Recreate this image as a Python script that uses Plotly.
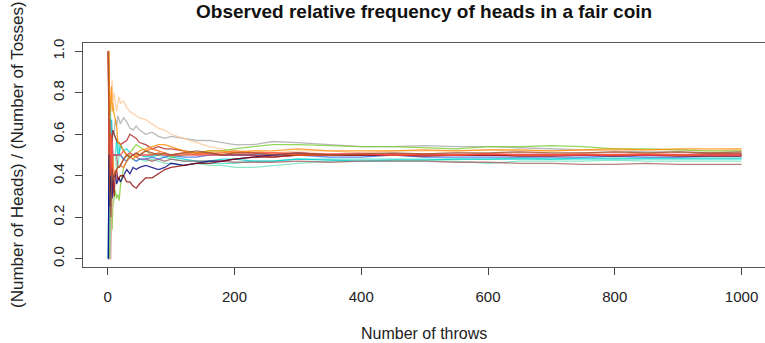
import plotly.graph_objects as go

throws = [1, 2, 3, 4, 5, 6, 7, 8, 10, 12,
          14, 16, 18, 20, 25, 30, 35, 40, 45, 50,
          60, 70, 80, 90, 100, 120, 140, 160, 180, 200,
          230, 260, 300, 350, 400, 450, 500, 550, 600, 650,
          700, 750, 800, 850, 900, 950, 1000]

x_ticks = [0, 200, 400, 600, 800, 1000]
y_ticks = [0.0, 0.2, 0.4, 0.6, 0.8, 1.0]
y_tick_text = ["0.0", "0.2", "0.4", "0.6", "0.8", "1.0"]

sienna = [1.0, 0.5, 0.33, 0.25, 0.2, 0.33, 0.43, 0.38, 0.4, 0.42,
          0.43, 0.44, 0.44, 0.45, 0.48, 0.5, 0.49, 0.5, 0.51, 0.5,
          0.52, 0.51, 0.5, 0.51, 0.5, 0.51, 0.52, 0.51, 0.5, 0.51,
          0.51, 0.5, 0.51, 0.5, 0.505, 0.51, 0.505, 0.51, 0.51, 0.515,
          0.51, 0.51, 0.515, 0.51, 0.515, 0.51, 0.515]
darkorange = [1.0, 1.0, 0.67, 0.75, 0.8, 0.83, 0.71, 0.75, 0.7, 0.67,
              0.64, 0.56, 0.56, 0.55, 0.52, 0.5, 0.49, 0.48, 0.5, 0.52,
              0.53, 0.54, 0.55, 0.55, 0.54, 0.52, 0.51, 0.52, 0.52, 0.51,
              0.52, 0.52, 0.53, 0.52, 0.52, 0.52, 0.525, 0.52, 0.525, 0.525,
              0.52, 0.525, 0.53, 0.525, 0.53, 0.53, 0.53]
orangered = [1.0, 0.5, 0.67, 0.5, 0.6, 0.5, 0.43, 0.5, 0.4, 0.42,
             0.43, 0.44, 0.44, 0.45, 0.44, 0.47, 0.49, 0.5, 0.49, 0.5,
             0.52, 0.53, 0.52, 0.51, 0.5, 0.51, 0.5, 0.51, 0.51, 0.52,
             0.51, 0.51, 0.5, 0.5, 0.505, 0.5, 0.505, 0.5, 0.505, 0.5,
             0.5, 0.505, 0.5, 0.505, 0.5, 0.505, 0.505]
peach = [1.0, 1.0, 0.67, 0.75, 0.8, 0.83, 0.86, 0.75, 0.8, 0.75,
         0.71, 0.75, 0.78, 0.75, 0.76, 0.73, 0.71, 0.7, 0.69, 0.68,
         0.67, 0.65, 0.63, 0.62, 0.6, 0.58, 0.56, 0.54, 0.53, 0.52,
         0.52, 0.51, 0.52, 0.52, 0.51, 0.52, 0.52, 0.52, 0.525, 0.52,
         0.52, 0.525, 0.52, 0.525, 0.525, 0.52, 0.525]
gray = [1.0, 0.5, 0.33, 0.5, 0.6, 0.67, 0.57, 0.62, 0.6, 0.67,
        0.64, 0.69, 0.67, 0.65, 0.68, 0.66, 0.63, 0.62, 0.64, 0.62,
        0.6, 0.61, 0.59, 0.58, 0.59, 0.58, 0.57, 0.57, 0.56, 0.55,
        0.55, 0.565, 0.56, 0.55, 0.54, 0.54, 0.545, 0.54, 0.54, 0.535,
        0.53, 0.525, 0.52, 0.515, 0.515, 0.51, 0.51]
navy = [0.0, 0.5, 0.33, 0.25, 0.4, 0.33, 0.29, 0.38, 0.4, 0.42,
        0.36, 0.38, 0.39, 0.37, 0.4, 0.43, 0.41, 0.44, 0.43, 0.44,
        0.45, 0.44, 0.43, 0.44, 0.46, 0.45, 0.46, 0.47, 0.47, 0.48,
        0.49, 0.5, 0.51, 0.5, 0.5, 0.5, 0.5, 0.5, 0.5, 0.5,
        0.5, 0.5, 0.5, 0.5, 0.5, 0.505, 0.505]
darkred = [1.0, 0.5, 0.33, 0.5, 0.4, 0.5, 0.43, 0.38, 0.3, 0.42,
           0.43, 0.38, 0.39, 0.4, 0.4, 0.37, 0.37, 0.35, 0.34, 0.36,
           0.39, 0.39, 0.41, 0.43, 0.44, 0.45, 0.46, 0.46, 0.47, 0.48,
           0.49, 0.49, 0.5, 0.5, 0.5, 0.5, 0.495, 0.5, 0.5, 0.495,
           0.495, 0.5, 0.495, 0.5, 0.495, 0.495, 0.495]
firebrick = [1.0, 0.5, 0.67, 0.5, 0.6, 0.5, 0.57, 0.62, 0.6, 0.58,
             0.57, 0.56, 0.56, 0.55, 0.56, 0.57, 0.6, 0.59, 0.58, 0.56,
             0.55, 0.53, 0.54, 0.53, 0.53, 0.52, 0.51, 0.51, 0.5, 0.5,
             0.5, 0.49, 0.5, 0.5, 0.5, 0.505, 0.5, 0.5, 0.5, 0.5,
             0.5, 0.5, 0.5, 0.5, 0.5, 0.5, 0.5]
yellowgreen = [0.0, 0.0, 0.0, 0.25, 0.2, 0.17, 0.14, 0.25, 0.3, 0.33,
               0.29, 0.31, 0.28, 0.35, 0.44, 0.47, 0.51, 0.53, 0.55, 0.54,
               0.52, 0.5, 0.51, 0.5, 0.49, 0.5, 0.51, 0.52, 0.52, 0.53,
               0.54, 0.55, 0.55, 0.545, 0.54, 0.54, 0.535, 0.53, 0.54, 0.54,
               0.545, 0.54, 0.53, 0.53, 0.525, 0.52, 0.52]
turquoise = [0.0, 0.0, 0.0, 0.0, 0.2, 0.33, 0.43, 0.5, 0.5, 0.5,
             0.57, 0.56, 0.5, 0.55, 0.52, 0.5, 0.51, 0.5, 0.49, 0.5,
             0.5, 0.49, 0.5, 0.49, 0.48, 0.47, 0.47, 0.46, 0.46, 0.46,
             0.47, 0.47, 0.48, 0.48, 0.48, 0.48, 0.48, 0.48, 0.48, 0.485,
             0.48, 0.48, 0.48, 0.48, 0.48, 0.48, 0.48]
cyan = [0.0, 0.5, 0.67, 0.75, 0.6, 0.67, 0.57, 0.62, 0.6, 0.58,
        0.57, 0.5, 0.5, 0.55, 0.52, 0.53, 0.51, 0.5, 0.51, 0.5,
        0.49, 0.5, 0.5, 0.5, 0.49, 0.48, 0.47, 0.47, 0.48, 0.48,
        0.47, 0.47, 0.48, 0.475, 0.47, 0.475, 0.475, 0.48, 0.48, 0.48,
        0.48, 0.485, 0.485, 0.485, 0.485, 0.485, 0.485]
aquamarine = [0.0, 0.5, 0.33, 0.25, 0.4, 0.5, 0.43, 0.5, 0.5, 0.5,
              0.43, 0.44, 0.5, 0.5, 0.48, 0.5, 0.49, 0.48, 0.47, 0.48,
              0.47, 0.48, 0.47, 0.46, 0.46, 0.45, 0.46, 0.45, 0.45, 0.44,
              0.44, 0.45, 0.46, 0.47, 0.47, 0.47, 0.47, 0.47, 0.46, 0.47,
              0.47, 0.47, 0.475, 0.47, 0.47, 0.47, 0.47]
rosybrown = [1.0, 0.5, 0.33, 0.5, 0.6, 0.5, 0.43, 0.5, 0.5, 0.5,
             0.5, 0.44, 0.44, 0.45, 0.48, 0.5, 0.49, 0.5, 0.49, 0.48,
             0.48, 0.47, 0.48, 0.47, 0.48, 0.47, 0.47, 0.47, 0.47, 0.465,
             0.465, 0.465, 0.47, 0.465, 0.47, 0.47, 0.47, 0.465, 0.465, 0.46,
             0.46, 0.455, 0.455, 0.46, 0.455, 0.455, 0.455]
salmon = [0.0, 0.0, 0.0, 0.0, 0.0, 0.17, 0.29, 0.38, 0.4, 0.42,
          0.43, 0.44, 0.44, 0.45, 0.48, 0.5, 0.51, 0.5, 0.49, 0.5,
          0.5, 0.51, 0.5, 0.5, 0.5, 0.51, 0.51, 0.5, 0.51, 0.51,
          0.51, 0.505, 0.5, 0.505, 0.51, 0.505, 0.505, 0.51, 0.505, 0.51,
          0.505, 0.51, 0.51, 0.505, 0.51, 0.51, 0.51]
red = [1.0, 0.5, 0.67, 0.5, 0.4, 0.5, 0.57, 0.5, 0.5, 0.5,
       0.5, 0.5, 0.5, 0.5, 0.52, 0.5, 0.51, 0.5, 0.51, 0.5,
       0.5, 0.5, 0.51, 0.5, 0.5, 0.5, 0.5, 0.5, 0.5, 0.51,
       0.51, 0.51, 0.51, 0.505, 0.505, 0.5, 0.5, 0.5, 0.505, 0.5,
       0.5, 0.5, 0.5, 0.5, 0.5, 0.5, 0.5]
royalblue = [0.0, 0.5, 0.33, 0.5, 0.4, 0.5, 0.57, 0.5, 0.5, 0.5,
             0.5, 0.5, 0.5, 0.5, 0.48, 0.47, 0.49, 0.48, 0.47, 0.48,
             0.48, 0.49, 0.48, 0.49, 0.5, 0.49, 0.49, 0.5, 0.5, 0.5,
             0.5, 0.5, 0.5, 0.49, 0.49, 0.5, 0.49, 0.49, 0.49, 0.49,
             0.49, 0.49, 0.495, 0.49, 0.49, 0.495, 0.495]

series = [
    (gray, "#a9a9a9"),
    (peach, "#ffc89a"),
    (aquamarine, "#70e6c0"),
    (turquoise, "#40e0d0"),
    (cyan, "#00ced1"),
    (yellowgreen, "#7ccd32"),
    (rosybrown, "#a56464"),
    (salmon, "#f4a0a0"),
    (royalblue, "#4169e1"),
    (navy, "#000080"),
    (darkred, "#8b0000"),
    (firebrick, "#b22222"),
    (orangered, "#ff6a20"),
    (red, "#ff5050"),
    (darkorange, "#ff8c00"),
    (sienna, "#a0522d"),
]

fig = go.Figure()
for vals, col in series:
    fig.add_trace(go.Scatter(x=throws, y=vals, mode="lines",
                             line=dict(color=col, width=1.3), opacity=0.8,
                             showlegend=False, hoverinfo="skip"))

font = "Liberation Sans, Arial, sans-serif"
fig.update_layout(
    width=765, height=343,
    margin=dict(l=83, r=0, t=43, b=76),
    plot_bgcolor="white", paper_bgcolor="white",
    font=dict(family=font, size=15, color="#222"),
    xaxis=dict(range=[-39, 1037], tickvals=x_ticks, ticks="outside", ticklen=7,
               tickcolor="#444", showgrid=False, zeroline=False, showline=True,
               linecolor="#555", mirror=True, ticklabelstandoff=9,
               automargin=False, tickfont=dict(size=15)),
    yaxis=dict(range=[-0.04, 1.04], tickvals=y_ticks, ticktext=y_tick_text,
               ticks="outside", ticklen=7, tickcolor="#444", tickangle=-90,
               showgrid=False, zeroline=False, showline=True, linecolor="#555",
               mirror=True, tickfont=dict(size=15), ticklabelstandoff=5,
               automargin=False),
    annotations=[
        dict(text="<b>Observed relative frequency of heads in a fair coin</b>",
             xref="paper", yref="paper", x=0.5, y=(267.3 - 11) / 224.6,
             showarrow=False, xanchor="center", yanchor="middle",
             font=dict(size=19, color="#111")),
        dict(text="Number of throws", xref="paper", yref="paper", x=0.5,
             y=(267.3 - 334) / 224.6, showarrow=False, xanchor="center",
             yanchor="middle", font=dict(size=16, color="#222")),
        dict(text="(Number of Heads) / (Number of Tosses)", xref="paper", yref="paper",
             x=(18 - 83) / 682, y=(267.3 - 155) / 224.6, textangle=-90, showarrow=False,
             xanchor="center", yanchor="middle", font=dict(size=17, color="#222")),
    ],
)

fig.write_html("out.html", config={"displayModeBar": False},
               post_script="document.body.style.margin='0';document.body.style.overflow='hidden';")
